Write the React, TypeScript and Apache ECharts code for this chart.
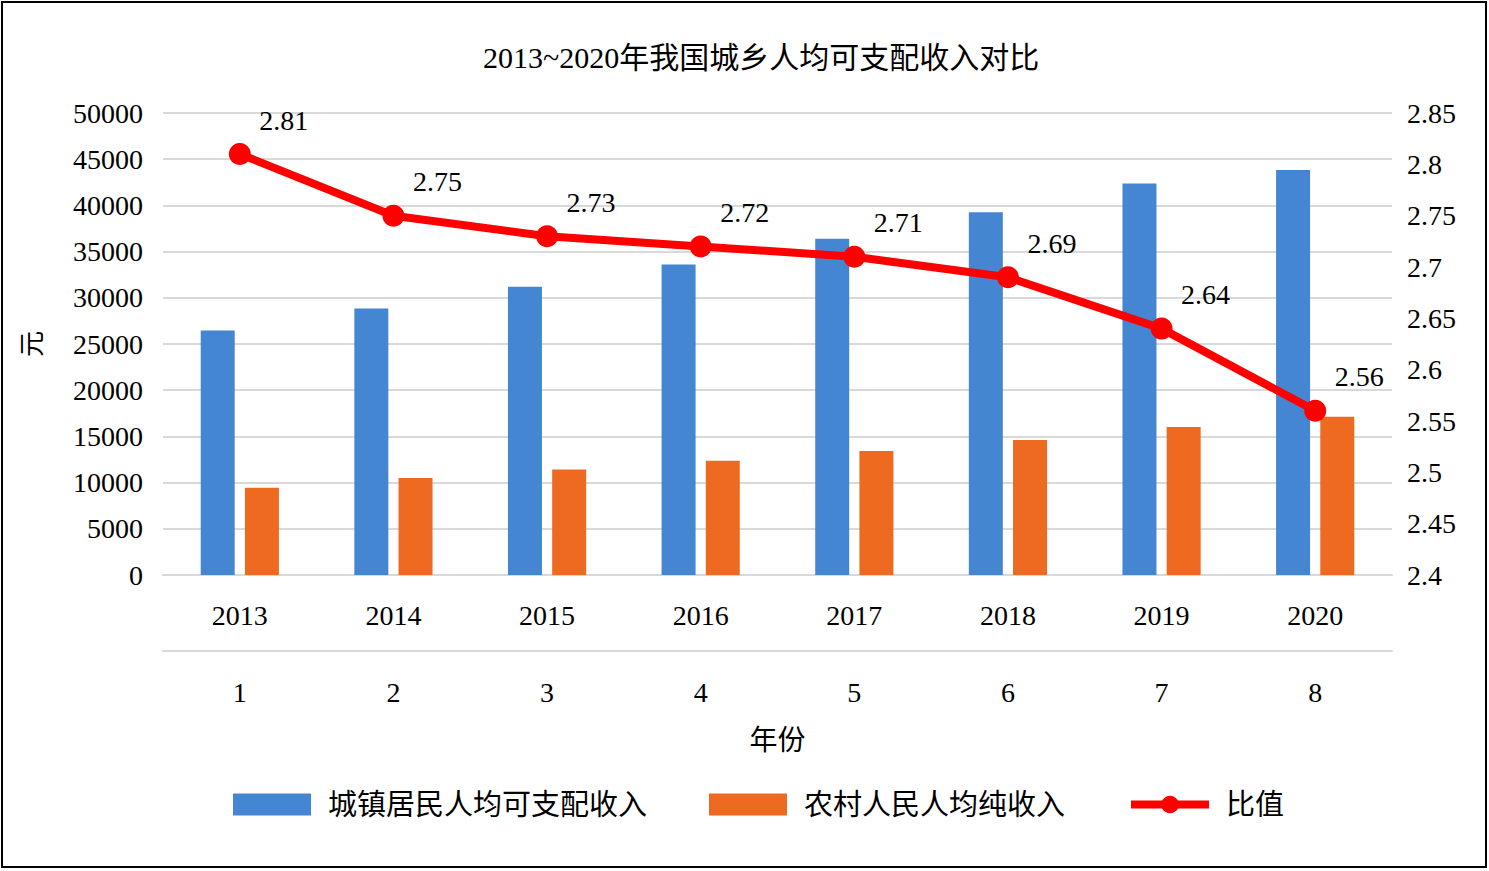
import React, { useEffect, useRef } from "react";
import * as echarts from "echarts";

const years = ["2013", "2014", "2015", "2016", "2017", "2018", "2019", "2020"];
const indexLabels = ["1", "2", "3", "4", "5", "6", "7", "8"];
const urbanIncome = [26467, 28844, 31195, 33616, 36396, 39251, 42359, 43834];
const ruralIncome = [9430, 10489, 11422, 12363, 13432, 14617, 16021, 17131];
const ratio = [2.81, 2.75, 2.73, 2.72, 2.71, 2.69, 2.64, 2.56];

const FONT = "Liberation Serif, Noto Sans CJK SC";
const GRID_COLOR = "#d9d9d9";

export default function App() {
  const ref = useRef<HTMLDivElement>(null);
  useEffect(() => {
    if (!ref.current) return;
    const chart = echarts.init(ref.current, null, { renderer: "svg" });
    chart.setOption({
      animation: false,
      backgroundColor: "#ffffff",
      textStyle: { fontFamily: FONT, color: "#000" },
      title: {
        text: "2013~2020年我国城乡人均可支配收入对比",
        left: 478,
        top: 37,
        textStyle: { fontFamily: FONT, fontSize: 30, fontWeight: "normal", color: "#000" },
      },
      graphic: [
        {
          type: "rect",
          shape: { x: 2, y: 2, width: 1484, height: 865 },
          style: { fill: "none", stroke: "#000", lineWidth: 2 },
          silent: true,
        },
      ],
      legend: {
        bottom: 47,
        left: 228,
        itemWidth: 78,
        itemHeight: 22,
        itemGap: 62,
        textStyle: { fontFamily: FONT, fontSize: 29, color: "#000", padding: [0, 0, 0, 12] },
        data: [
          { name: "城镇居民人均可支配收入", icon: "rect" },
          { name: "农村人民人均纯收入", icon: "rect" },
          { name: "比值", lineStyle: { width: 8, color: "#ff0000" } },
        ],
      },
      grid: { left: 163, right: 97, top: 113, bottom: 296, containLabel: false },
      xAxis: [
        {
          type: "category",
          data: years,
          position: "bottom",
          axisLine: { show: true, lineStyle: { color: GRID_COLOR, width: 2 } },
          axisTick: { show: false },
          axisLabel: { fontFamily: FONT, fontSize: 28, color: "#000", margin: 26 },
        },
        {
          type: "category",
          data: indexLabels,
          position: "bottom",
          offset: 76,
          axisLine: { show: true, lineStyle: { color: GRID_COLOR, width: 2 } },
          axisTick: { show: false },
          axisLabel: { fontFamily: FONT, fontSize: 28, color: "#000", margin: 27 },
          name: "年份",
          nameLocation: "middle",
          nameGap: 75,
          nameTextStyle: { fontFamily: FONT, fontSize: 28, color: "#000" },
        },
      ],
      yAxis: [
        {
          type: "value",
          min: 0,
          max: 50000,
          interval: 5000,
          name: "元",
          nameLocation: "middle",
          nameRotate: 90,
          nameGap: 118,
          nameTextStyle: { fontFamily: FONT, fontSize: 26, color: "#000" },
          axisLine: { show: false },
          axisTick: { show: false },
          axisLabel: {
            fontFamily: FONT,
            fontSize: 28,
            color: "#000",
            margin: 20,
            formatter: (v: number) => String(v),
          },
          splitLine: { show: true, lineStyle: { color: GRID_COLOR, width: 2 } },
        },
        {
          type: "value",
          min: 2.4,
          max: 2.85,
          interval: 0.05,
          position: "right",
          axisLine: { show: false },
          axisTick: { show: false },
          axisLabel: {
            fontFamily: FONT,
            fontSize: 28,
            color: "#000",
            margin: 15,
            formatter: (v: number) => String(parseFloat(v.toFixed(2))),
          },
          splitLine: { show: false },
        },
      ],
      series: [
        {
          name: "城镇居民人均可支配收入",
          type: "bar",
          xAxisIndex: 0,
          yAxisIndex: 0,
          data: urbanIncome,
          barWidth: 34,
          barGap: "30%",
          itemStyle: { color: "#4586d3" },
        },
        {
          name: "农村人民人均纯收入",
          type: "bar",
          xAxisIndex: 0,
          yAxisIndex: 0,
          data: ruralIncome,
          barWidth: 34,
          barGap: "30%",
          itemStyle: { color: "#ee6a20" },
        },
        {
          name: "比值",
          type: "line",
          xAxisIndex: 0,
          yAxisIndex: 1,
          data: ratio,
          symbol: "circle",
          symbolSize: 22,
          lineStyle: { color: "#ff0000", width: 8 },
          itemStyle: { color: "#ff0000" },
          label: {
            show: true,
            position: "top",
            distance: 5,
            offset: [44, -4],
            fontFamily: FONT,
            fontSize: 28,
            color: "#000",
          },
          z: 5,
        },
      ],
    });
    return () => chart.dispose();
  }, []);
  return (
    <div
      ref={ref}
      style={{ position: "fixed", left: 0, top: 0, width: 1489, height: 871 }}
    />
  );
}
